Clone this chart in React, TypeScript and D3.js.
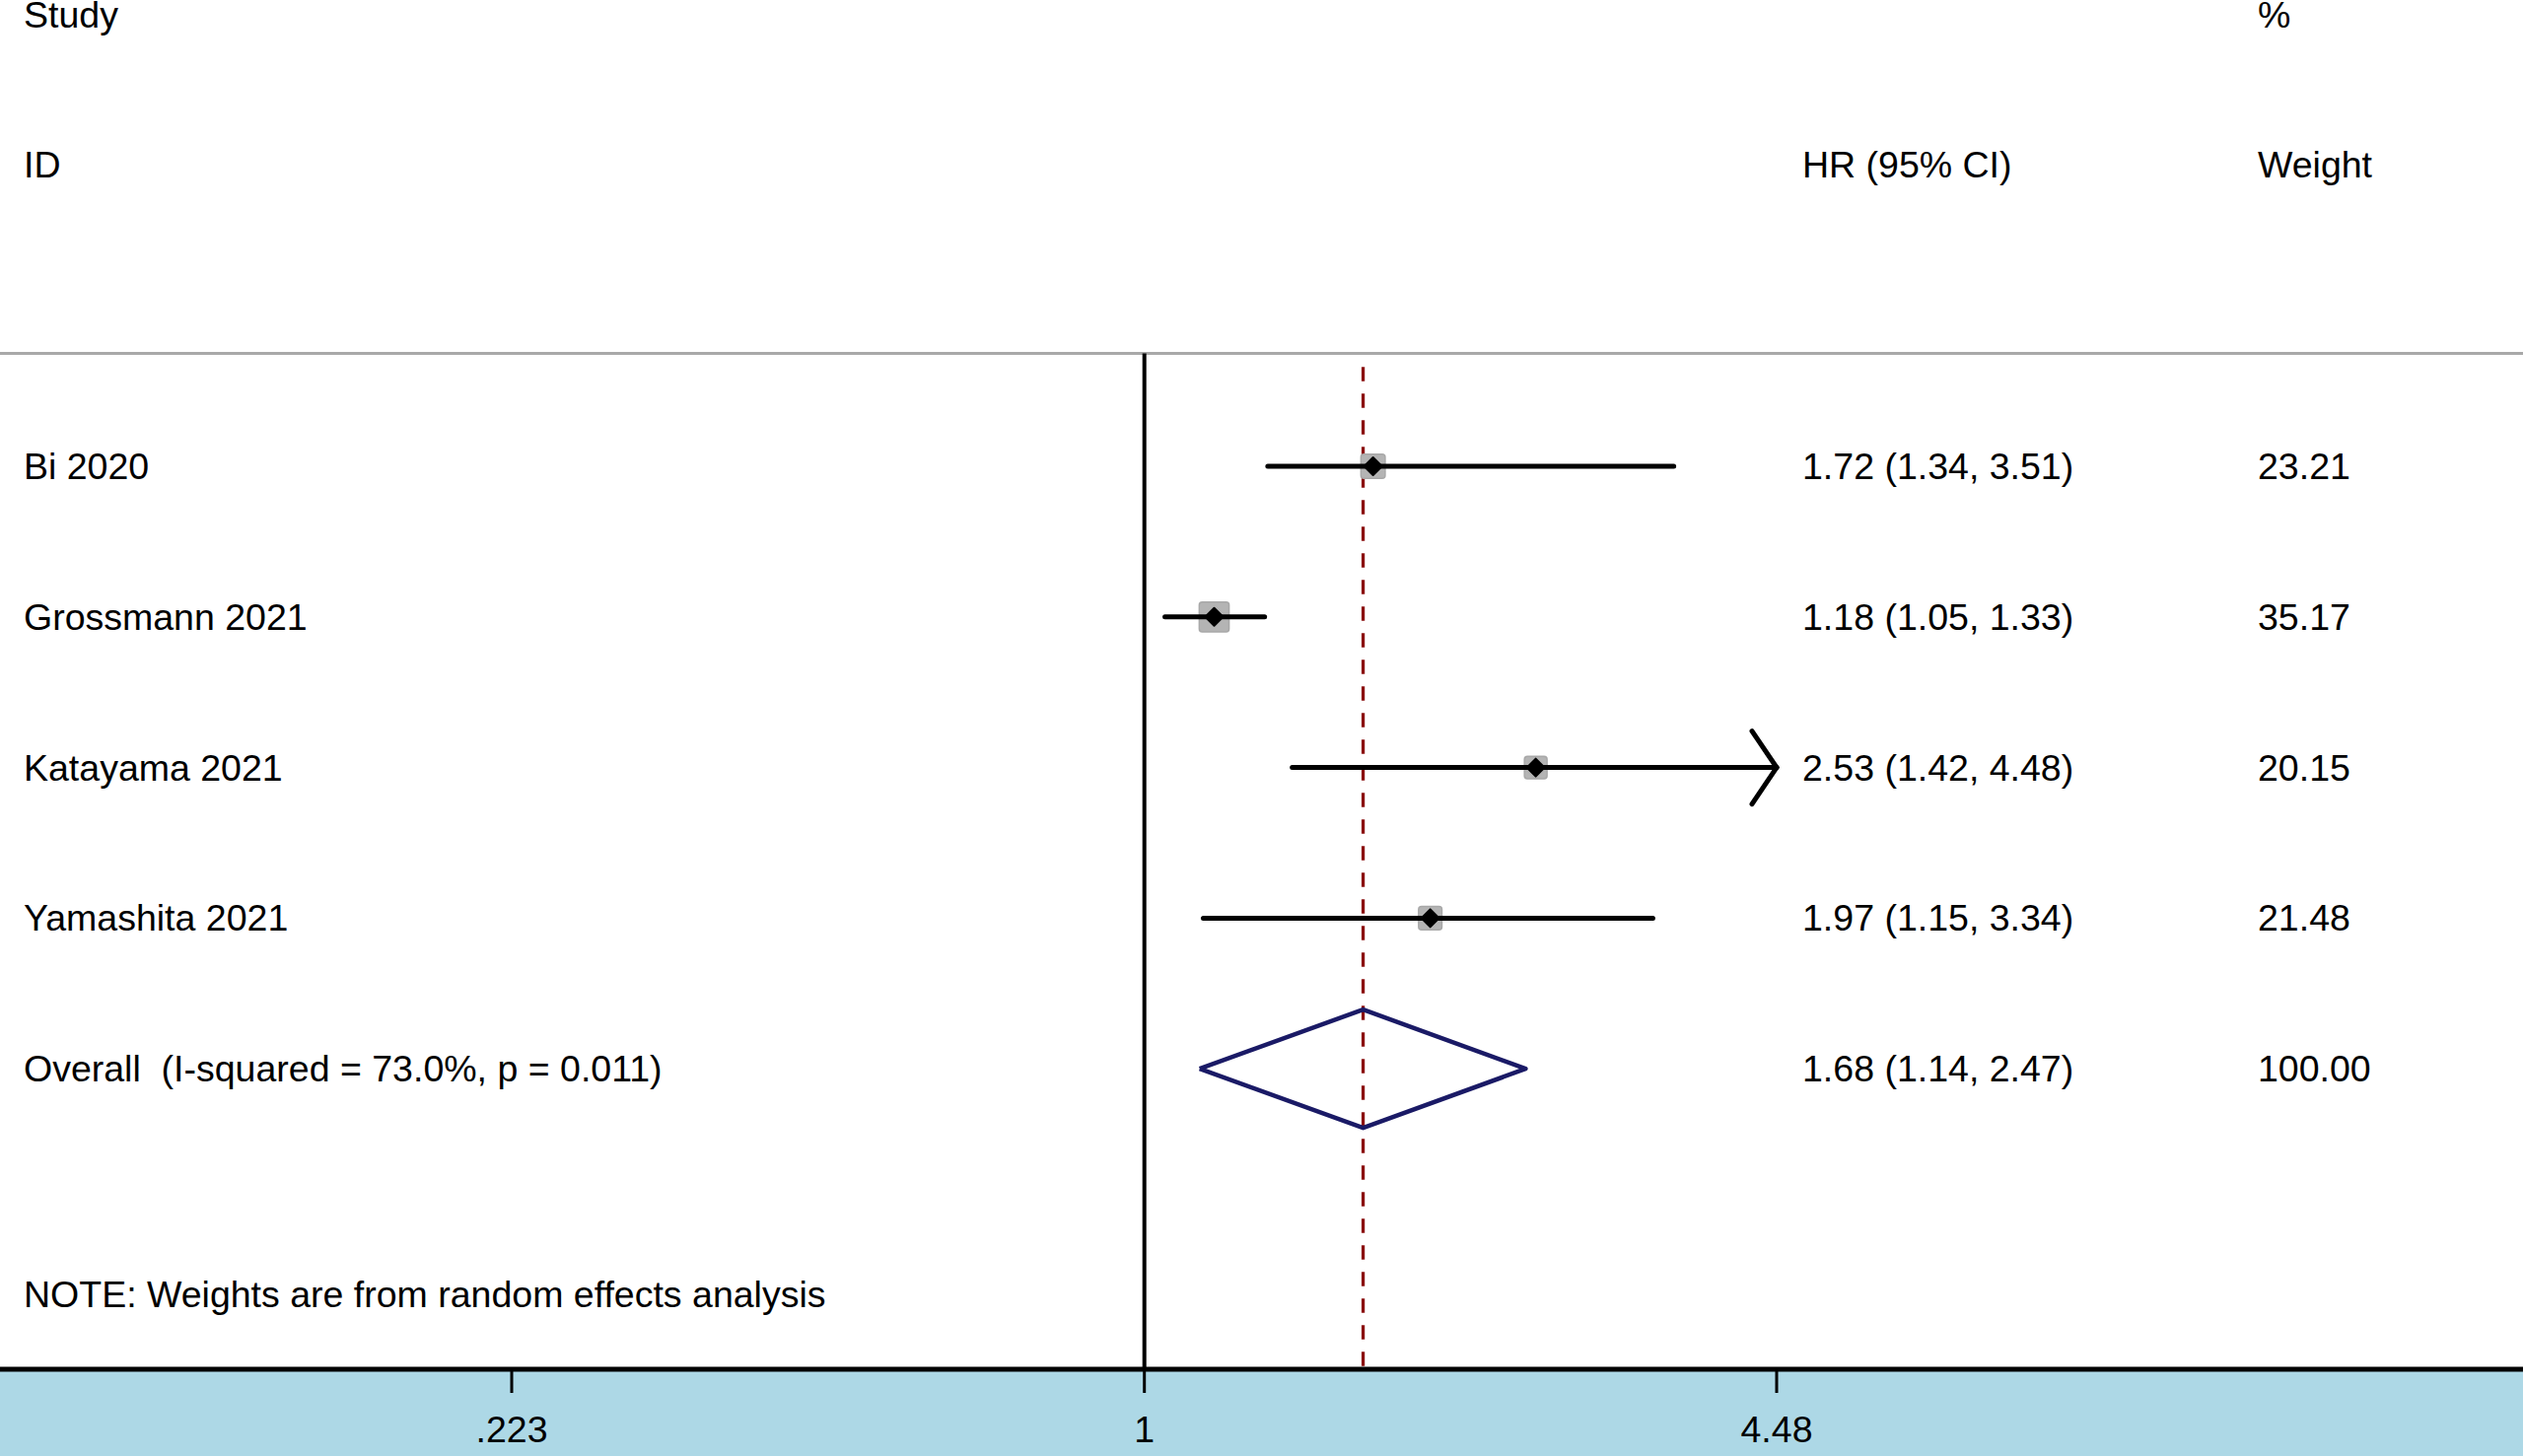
import * as d3 from 'd3';

// study-level data
const studies = ['Bi 2020', 'Grossmann 2021', 'Katayama 2021', 'Yamashita 2021'];
const hr = [1.72, 1.18, 2.53, 1.97];
const ciLow = [1.34, 1.05, 1.42, 1.15];
const ciHigh = [3.51, 1.33, 4.48, 3.34];
const weights = [23.21, 35.17, 20.15, 21.48];

const overallLabel = 'Overall  (I-squared = 73.0%, p = 0.011)';
const overallHr = 1.68;
const overallLow = 1.14;
const overallHigh = 2.47;
const overallWeight = 100.0;

const tickValues = [0.223, 1, 4.48];
const tickLabels = ['.223', '1', '4.48'];

const W = 2559;
const H = 1477;
const FONT = '"Liberation Sans", Arial, sans-serif';
const FS = 37.5;

const fmt = (v: number) => v.toFixed(2);

export default function App() {
  const x = d3.scaleLog().domain([0.223, 4.48]).range([519, 1802]);
  const y = d3.scaleLinear().domain([0, 1]).range([473, 625.8]);
  const xMax = 4.48;
  const axisY = 1389;
  const textOff = 13;
  const colHr = 1828;
  const colW = 2290;
  const boxK = 5.1;
  const mk = 9;

  const diamond = d3.line<[number, number]>()([
    [x(overallLow), y(4)],
    [x(overallHr), y(4) - 60],
    [x(overallHigh), y(4)],
    [x(overallHr), y(4) + 60],
    [x(overallLow), y(4)],
  ]);

  return (
    <svg
      width={W}
      height={H}
      style={{ position: 'absolute', left: 0, top: 0, background: '#fff', whiteSpace: 'pre' }}
      fontFamily={FONT}
      fontSize={FS}
    >
      {/* headers */}
      <text x={24} y={y(-3) + textOff}>Study</text>
      <text x={24} y={y(-2) + textOff}>ID</text>
      <text x={colHr} y={y(-2) + textOff}>HR (95% CI)</text>
      <text x={colW} y={y(-3) + textOff}>%</text>
      <text x={colW} y={y(-2) + textOff}>Weight</text>
      <line x1={0} x2={W} y1={y(-0.75)} y2={y(-0.75)} stroke="#a8a8a8" strokeWidth={3} />

      {/* null line */}
      <line x1={x(1)} x2={x(1)} y1={y(-0.75)} y2={axisY} stroke="#000" strokeWidth={4} />
      {/* overall effect line */}
      <line
        x1={x(overallHr)} x2={x(overallHr)} y1={y(-0.66)} y2={axisY}
        stroke="#8b1010" strokeWidth={3.3} strokeDasharray="14.5 12.5"
      />

      {studies.map((s, i) => {
        const cy = y(i);
        const side = boxK * Math.sqrt(weights[i]);
        const hiCut = ciHigh[i] >= xMax;
        const xr = x(Math.min(ciHigh[i], xMax));
        const cx = x(hr[i]);
        return (
          <g key={s}>
            <text x={24} y={cy + textOff}>{s}</text>
            <rect
              x={cx - side / 2} y={cy - side / 2} width={side} height={side} rx={3}
              fill="#b4b4b4" stroke="#a8a8a8" strokeWidth={1.5}
            />
            <line
              x1={x(ciLow[i])} x2={xr} y1={cy} y2={cy}
              stroke="#000" strokeWidth={5} strokeLinecap="round"
            />
            {hiCut && (
              <path
                d={`M${xr - 25},${cy - 37}L${xr},${cy}L${xr - 25},${cy + 37}`}
                fill="none" stroke="#000" strokeWidth={5} strokeLinecap="round"
              />
            )}
            <path
              d={`M${cx - mk},${cy}L${cx},${cy - mk}L${cx + mk},${cy}L${cx},${cy + mk}Z`}
              fill="#000" stroke="#000" strokeWidth={2} strokeLinejoin="round"
            />
            <text x={colHr} y={cy + textOff}>
              {`${fmt(hr[i])} (${fmt(ciLow[i])}, ${fmt(ciHigh[i])})`}
            </text>
            <text x={colW} y={cy + textOff}>{fmt(weights[i])}</text>
          </g>
        );
      })}

      {/* overall */}
      <text x={24} y={y(4) + textOff} xmlSpace="preserve">{overallLabel}</text>
      <path d={diamond ?? ''} fill="none" stroke="#1a1a66" strokeWidth={4.5} strokeLinejoin="round" />
      <text x={colHr} y={y(4) + textOff}>
        {`${fmt(overallHr)} (${fmt(overallLow)}, ${fmt(overallHigh)})`}
      </text>
      <text x={colW} y={y(4) + textOff}>{fmt(overallWeight)}</text>

      <text x={24} y={y(5.5) + textOff}>NOTE: Weights are from random effects analysis</text>

      {/* x axis band */}
      <rect x={0} y={axisY} width={W} height={H - axisY} fill="#add8e6" />
      <line x1={0} x2={W} y1={axisY} y2={axisY} stroke="#000" strokeWidth={5} />
      {tickValues.map((t, i) => (
        <g key={t}>
          <line x1={x(t)} x2={x(t)} y1={axisY} y2={axisY + 24} stroke="#000" strokeWidth={3} />
          <text x={x(t)} y={1463} textAnchor="middle">{tickLabels[i]}</text>
        </g>
      ))}
    </svg>
  );
}
